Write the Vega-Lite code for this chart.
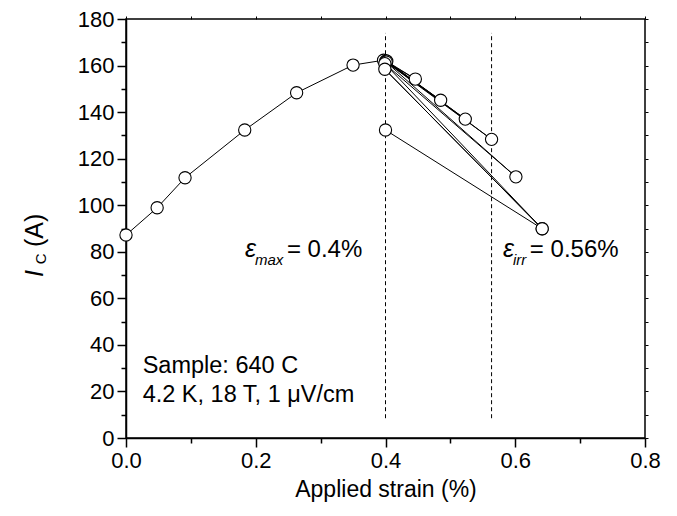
{
  "$schema": "https://vega.github.io/schema/vega-lite/v6.json",
  "width": 519,
  "height": 419,
  "autosize": {"type": "none"},
  "padding": {"left": 126, "top": 19, "right": 32, "bottom": 78},
  "background": "white",
  "config": {
    "view": {"stroke": "black", "strokeWidth": 1.5},
    "font": "Liberation Sans",
    "axis": {"grid": false, "labelFlush": false, "labelOverlap": false, "domainColor": "black", "domainWidth": 1.5, "tickColor": "black", "tickWidth": 1.5, "labelColor": "black", "titleColor": "black", "labelFont": "Liberation Sans", "titleFont": "Liberation Sans", "labelFontSize": 22, "titleFontSize": 23, "titleFontWeight": "normal"}
  },
  "datasets": {
    "curve": [
      {"o": 1, "x": 0.0, "y": 87.2},
      {"o": 2, "x": 0.048, "y": 98.9},
      {"o": 3, "x": 0.091, "y": 111.8},
      {"o": 4, "x": 0.183, "y": 132.3},
      {"o": 5, "x": 0.263, "y": 148.3},
      {"o": 6, "x": 0.350, "y": 160.2},
      {"o": 7, "x": 0.397, "y": 162.3},
      {"o": 8, "x": 0.446, "y": 154.2},
      {"o": 9, "x": 0.401, "y": 162.0},
      {"o": 10, "x": 0.485, "y": 145.1},
      {"o": 11, "x": 0.400, "y": 161.8},
      {"o": 12, "x": 0.523, "y": 137.0},
      {"o": 13, "x": 0.402, "y": 161.9},
      {"o": 14, "x": 0.5635, "y": 128.3},
      {"o": 15, "x": 0.401, "y": 161.5},
      {"o": 16, "x": 0.601, "y": 112.2},
      {"o": 17, "x": 0.399, "y": 160.8},
      {"o": 18, "x": 0.6415, "y": 89.9},
      {"o": 19, "x": 0.399, "y": 158.4},
      {"o": 20, "x": 0.6415, "y": 89.9},
      {"o": 21, "x": 0.400, "y": 132.3}
    ]
  },
  "layer": [
    {
      "data": {"values": [{"x": 0.4, "y1": 8.5, "y2": 174}, {"x": 0.5635, "y1": 8.5, "y2": 174}]},
      "mark": {"type": "rule", "color": "black", "strokeWidth": 1, "strokeDash": [4, 3]},
      "encoding": {
        "x": {"field": "x", "type": "quantitative", "scale": {"domain": [0, 0.8], "nice": false, "zero": false},
          "axis": {"orient": "top", "values": [0, 0.1, 0.2, 0.3, 0.4, 0.5, 0.6, 0.7, 0.8], "labels": false, "title": null, "tickSize": 3, "tickWidth": 1, "domain": false}},
        "y": {"field": "y1", "type": "quantitative", "scale": {"domain": [0, 180], "nice": false, "zero": false},
          "axis": {"orient": "right", "values": [0, 10, 20, 30, 40, 50, 60, 70, 80, 90, 100, 110, 120, 130, 140, 150, 160, 170, 180], "labels": false, "title": null, "tickSize": 3, "tickWidth": 1, "domain": false}},
        "y2": {"field": "y2"}
      }
    },
    {
      "data": {"name": "curve"},
      "mark": {"type": "line", "color": "black", "strokeWidth": 1},
      "encoding": {
        "x": {"field": "x", "type": "quantitative", "scale": {"domain": [0, 0.8], "nice": false, "zero": false},
          "axis": {"orient": "bottom", "values": [0, 0.1, 0.2, 0.3, 0.4, 0.5, 0.6, 0.7, 0.8],
            "labelExpr": "round(datum.value*10) % 2 == 0 ? format(datum.value, '.1f') : ''",
            "tickSize": {"condition": {"test": "round(datum.value*10) % 2 == 0", "value": 9}, "value": 5},
            "labelPadding": 3, "title": "Applied strain (%)", "titlePadding": 7}},
        "y": {"field": "y", "type": "quantitative", "scale": {"domain": [0, 180], "nice": false, "zero": false},
          "axis": {"orient": "left", "values": [0, 10, 20, 30, 40, 50, 60, 70, 80, 90, 100, 110, 120, 130, 140, 150, 160, 170, 180],
            "labelExpr": "datum.value % 20 == 0 ? format(datum.value, 'd') : ''",
            "tickSize": {"condition": {"test": "datum.value % 20 == 0", "value": 9}, "value": 5},
            "labelPadding": 3, "title": null}},
        "order": {"field": "o", "type": "quantitative"}
      }
    },
    {
      "data": {"name": "curve"},
      "mark": {"type": "point", "shape": "circle", "filled": true, "fill": "white", "stroke": "black", "strokeWidth": 1.1, "size": 150, "opacity": 1},
      "encoding": {
        "x": {"field": "x", "type": "quantitative", "scale": {"domain": [0, 0.8], "nice": false, "zero": false}, "axis": null},
        "y": {"field": "y", "type": "quantitative", "scale": {"domain": [0, 180], "nice": false, "zero": false}, "axis": null}
      }
    },
    {
      "data": {"values": [{"x": 0.1834, "y": 77.8, "t": "ε"}, {"x": 0.581, "y": 77.8, "t": "ε"}]},
      "mark": {"type": "text", "font": "Liberation Sans", "fontStyle": "italic", "fontSize": 25, "align": "left", "baseline": "alphabetic", "color": "black"},
      "encoding": {"x": {"field": "x", "type": "quantitative", "scale": {"domain": [0, 0.8], "nice": false, "zero": false}, "axis": null}, "y": {"field": "y", "type": "quantitative", "scale": {"domain": [0, 180], "nice": false, "zero": false}, "axis": null}, "text": {"field": "t"}}
    },
    {
      "data": {"values": [{"x": 0.1988, "y": 74.3, "t": "max"}, {"x": 0.5965, "y": 74.3, "t": "irr"}]},
      "mark": {"type": "text", "font": "Liberation Sans", "fontStyle": "italic", "fontSize": 15, "align": "left", "baseline": "alphabetic", "color": "black"},
      "encoding": {"x": {"field": "x", "type": "quantitative", "scale": {"domain": [0, 0.8], "nice": false, "zero": false}, "axis": null}, "y": {"field": "y", "type": "quantitative", "scale": {"domain": [0, 180], "nice": false, "zero": false}, "axis": null}, "text": {"field": "t"}}
    },
    {
      "data": {"values": [{"x": 0.248, "y": 77.8, "t": "= 0.4%"}, {"x": 0.6225, "y": 77.8, "t": "= 0.56%"}]},
      "mark": {"type": "text", "font": "Liberation Sans", "fontSize": 24, "align": "left", "baseline": "alphabetic", "color": "black"},
      "encoding": {"x": {"field": "x", "type": "quantitative", "scale": {"domain": [0, 0.8], "nice": false, "zero": false}, "axis": null}, "y": {"field": "y", "type": "quantitative", "scale": {"domain": [0, 180], "nice": false, "zero": false}, "axis": null}, "text": {"field": "t"}}
    },
    {
      "data": {"values": [{"x": 0.0257, "y": 27.8, "t": "Sample: 640 C"}, {"x": 0.0257, "y": 15.6, "t": "4.2 K, 18 T, 1 μV/cm"}]},
      "mark": {"type": "text", "font": "Liberation Sans", "fontSize": 23.5, "align": "left", "baseline": "alphabetic", "color": "black"},
      "encoding": {"x": {"field": "x", "type": "quantitative", "scale": {"domain": [0, 0.8], "nice": false, "zero": false}, "axis": null}, "y": {"field": "y", "type": "quantitative", "scale": {"domain": [0, 180], "nice": false, "zero": false}, "axis": null}, "text": {"field": "t"}}
    },
    {
      "data": {"values": [{"x": -0.128, "y": 69.2, "t": "I"}]},
      "mark": {"type": "text", "font": "Liberation Sans", "fontStyle": "italic", "fontSize": 25, "angle": 270, "align": "left", "baseline": "alphabetic", "color": "black"},
      "encoding": {"x": {"field": "x", "type": "quantitative", "scale": {"domain": [0, 0.8], "nice": false, "zero": false}, "axis": null}, "y": {"field": "y", "type": "quantitative", "scale": {"domain": [0, 180], "nice": false, "zero": false}, "axis": null}, "text": {"field": "t"}}
    },
    {
      "data": {"values": [{"x": -0.1235, "y": 74.6, "t": "C"}]},
      "mark": {"type": "text", "font": "Liberation Sans", "fontSize": 15, "angle": 270, "align": "left", "baseline": "alphabetic", "color": "black"},
      "encoding": {"x": {"field": "x", "type": "quantitative", "scale": {"domain": [0, 0.8], "nice": false, "zero": false}, "axis": null}, "y": {"field": "y", "type": "quantitative", "scale": {"domain": [0, 180], "nice": false, "zero": false}, "axis": null}, "text": {"field": "t"}}
    },
    {
      "data": {"values": [{"x": -0.128, "y": 82.0, "t": "(A)"}]},
      "mark": {"type": "text", "font": "Liberation Sans", "fontSize": 25, "angle": 270, "align": "left", "baseline": "alphabetic", "color": "black"},
      "encoding": {"x": {"field": "x", "type": "quantitative", "scale": {"domain": [0, 0.8], "nice": false, "zero": false}, "axis": null}, "y": {"field": "y", "type": "quantitative", "scale": {"domain": [0, 180], "nice": false, "zero": false}, "axis": null}, "text": {"field": "t"}}
    }
  ],
  "resolve": {"axis": {"x": "independent", "y": "independent"}}
}
